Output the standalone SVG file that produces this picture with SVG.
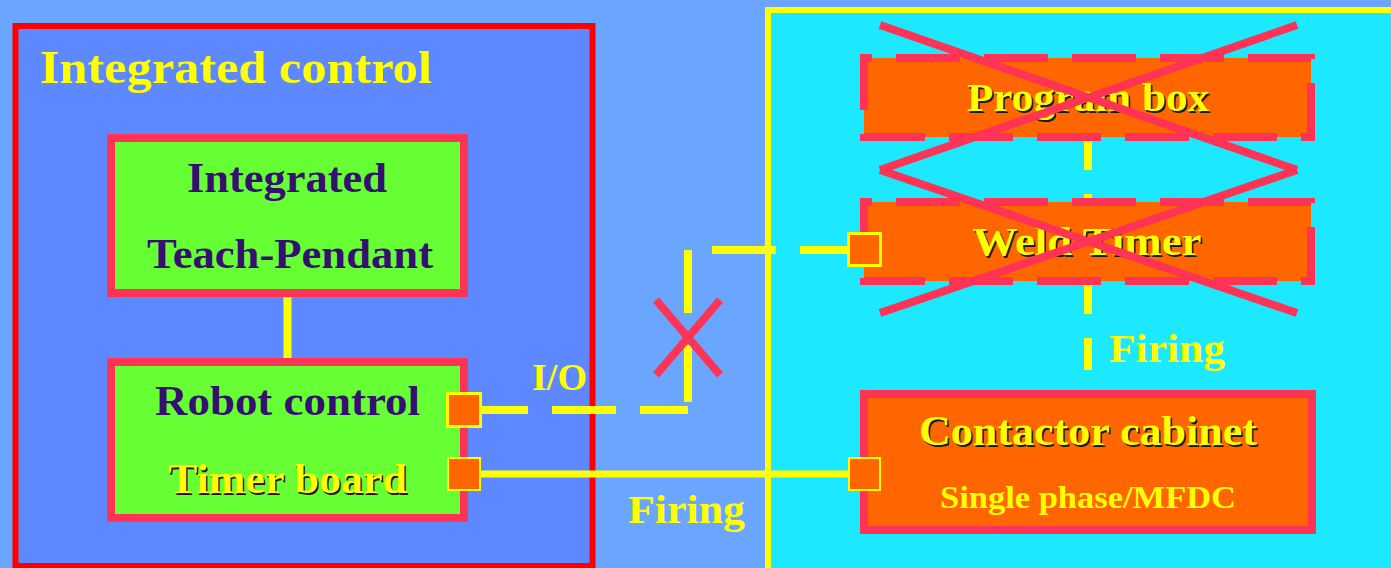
<svg xmlns="http://www.w3.org/2000/svg" width="1391" height="568" viewBox="0 0 1391 568">
<defs>
<style>
.t{font-family:"Liberation Serif","Times New Roman",serif;font-weight:bold;text-anchor:middle}
.purple{fill:#361070}
.yel{fill:#ffff00}
.sh{fill:#1a1a1a}
.node{stroke:#ff3355;stroke-width:8}
.dash{stroke-dasharray:64 24;stroke-dashoffset:56}
.port{fill:#ff6600;stroke:#ffff00}
.ycon{stroke:#ffff00;stroke-width:8;fill:none}
.xline{stroke:#ff3355;stroke-width:8;fill:none}
</style>
</defs>
<rect x="0" y="0" width="1391" height="568" fill="#6aa6ff"/>
<g id="integrated-control">
<rect x="15.5" y="26" width="577" height="540" fill="#5e88ff" stroke="#ff0000" stroke-width="6"/>
<text x="40" y="83" font-family="Liberation Serif, Times New Roman, serif" font-weight="bold" font-size="46" fill="#ffff00" textLength="392" lengthAdjust="spacingAndGlyphs">Integrated control</text>
</g>
<g id="welding-area">
<rect x="768" y="10" width="640" height="570" fill="#1ce8ff" stroke="#ffff00" stroke-width="6"/>
</g>
<g id="connectors">
<line x1="287.5" y1="297" x2="287.5" y2="362" class="ycon"/>
<path d="M481 410H528M552 410H616M640 410H688M688 402V345M688 313V250M712 250H776M800 250H847" class="ycon"/>
<line x1="481" y1="474" x2="848" y2="474" stroke="#ffff00" stroke-width="7"/>
<line x1="1088" y1="138" x2="1088" y2="202" class="ycon" stroke-dasharray="32 24"/>
<line x1="1088" y1="282" x2="1088" y2="392" class="ycon" stroke-dasharray="32 24"/>
</g>
<g id="teach-pendant">
<rect x="111" y="138" width="353" height="155" fill="#66ff33" class="node"/>
<text x="287" y="192" class="t purple" font-size="43" textLength="200" lengthAdjust="spacingAndGlyphs">Integrated</text>
<text x="290" y="268" class="t purple" font-size="43" textLength="286" lengthAdjust="spacingAndGlyphs">Teach-Pendant</text>
</g>
<g id="robot-control">
<rect x="111" y="362" width="353" height="156" fill="#66ff33" class="node"/>
<text x="287.5" y="415" class="t purple" font-size="43" textLength="265" lengthAdjust="spacingAndGlyphs">Robot control</text>
<text x="289" y="494.5" class="t sh" font-size="43" textLength="239" lengthAdjust="spacingAndGlyphs">Timer board</text>
<text x="287.5" y="493" class="t yel" font-size="43" textLength="239" lengthAdjust="spacingAndGlyphs">Timer board</text>
<rect x="447.5" y="393.5" width="33" height="33" class="port" stroke-width="3"/>
<rect x="448" y="458" width="32" height="32" class="port" stroke-width="2"/>
</g>
<g id="program-box">
<rect x="864" y="58" width="447" height="79" fill="#ff6600" class="node dash"/>
<text x="1089.5" y="112.5" class="t sh" font-size="41" textLength="242" lengthAdjust="spacingAndGlyphs">Program box</text>
<text x="1088" y="111" class="t yel" font-size="41" textLength="242" lengthAdjust="spacingAndGlyphs">Program box</text>
</g>
<g id="weld-timer">
<rect x="864" y="202" width="447" height="79" fill="#ff6600" class="node dash"/>
<text x="1088.5" y="256.5" class="t sh" font-size="41" textLength="229" lengthAdjust="spacingAndGlyphs">Weld Timer</text>
<text x="1087" y="255" class="t yel" font-size="41" textLength="229" lengthAdjust="spacingAndGlyphs">Weld Timer</text>
<rect x="848.5" y="233.5" width="32" height="32" class="port" stroke-width="3"/>
</g>
<g id="contactor-cabinet">
<rect x="864" y="394" width="448" height="136" fill="#ff6600" class="node"/>
<text x="1089.5" y="446.5" class="t sh" font-size="42" textLength="338" lengthAdjust="spacingAndGlyphs">Contactor cabinet</text>
<text x="1088" y="445" class="t yel" font-size="42" textLength="338" lengthAdjust="spacingAndGlyphs">Contactor cabinet</text>
<text x="1088" y="508" class="t yel" font-size="31" textLength="296" lengthAdjust="spacingAndGlyphs">Single phase/MFDC</text>
<rect x="849" y="458" width="31" height="32" class="port" stroke-width="2"/>
</g>
<g id="labels">
<text x="559.5" y="390" class="t yel" font-size="38" textLength="55" lengthAdjust="spacingAndGlyphs">I/O</text>
<text x="1167" y="362" class="t yel" font-size="40" textLength="116" lengthAdjust="spacingAndGlyphs">Firing</text>
<text x="686.5" y="523" class="t yel" font-size="40" textLength="117" lengthAdjust="spacingAndGlyphs">Firing</text>
</g>
<g id="cross-marks">
<line x1="880" y1="25" x2="1297" y2="170" class="xline"/>
<line x1="1297" y1="25" x2="880" y2="170" class="xline"/>
<line x1="880" y1="170" x2="1297" y2="313" class="xline"/>
<line x1="1297" y1="170" x2="880" y2="313" class="xline"/>
<line x1="656" y1="300" x2="720" y2="375" class="xline" stroke-width="7"/>
<line x1="720" y1="300" x2="656" y2="375" class="xline" stroke-width="7"/>
</g>
</svg>
